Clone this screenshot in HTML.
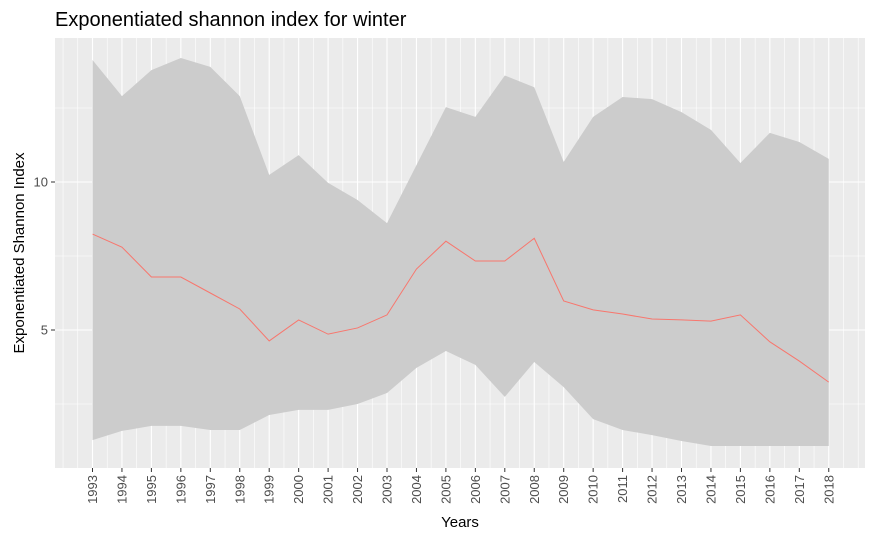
<!DOCTYPE html>
<html><head><meta charset="utf-8"><style>
body{margin:0;background:#fff;}
svg text{font-family:"Liberation Sans",Arial,sans-serif;}
</style></head><body>
<svg width="875" height="540" xmlns="http://www.w3.org/2000/svg">
<text x="55" y="26" font-size="20" fill="#000">Exponentiated shannon index for winter</text>
<rect x="55" y="38" width="810" height="430" fill="#ebebeb"/>
<g id="grid"></g>
<path id="ribbon" fill="#cccccc"/>
<path id="line" fill="none" stroke="#f8766d" stroke-width="1"/>
<g id="axes"></g>
<text x="0" y="0" transform="translate(24,253) rotate(-90)" text-anchor="middle" font-size="15" fill="#000">Exponentiated Shannon Index</text>
<text x="460" y="527" text-anchor="middle" font-size="15" fill="#000">Years</text>
</svg>
<script>
const years=[1993,1994,1995,1996,1997,1998,1999,2000,2001,2002,2003,2004,2005,2006,2007,2008,2009,2010,2011,2012,2013,2014,2015,2016,2017,2018];
const upper=[14.12,12.9,13.78,14.19,13.89,12.9,10.24,10.91,9.97,9.39,8.61,10.57,12.53,12.2,13.6,13.2,10.68,12.2,12.87,12.8,12.36,11.76,10.64,11.66,11.35,10.78];
const meanVals=[8.24,7.8,6.79,6.79,6.25,5.71,4.63,5.34,4.86,5.07,5.51,7.06,8.0,7.33,7.33,8.1,5.98,5.68,5.54,5.37,5.34,5.3,5.51,4.6,3.95,3.24];
const lower=[1.28,1.59,1.76,1.76,1.62,1.62,2.13,2.3,2.3,2.5,2.87,3.72,4.29,3.82,2.74,3.92,3.07,1.99,1.62,1.45,1.25,1.08,1.08,1.08,1.08,1.08];
const yTicks=[5,10];
const X=v=>92.5+(v-1993)*29.45;
const Y=v=>478-v*29.6;
const NS='http://www.w3.org/2000/svg';
const grid=document.getElementById('grid');
function ln(g,x1,y1,x2,y2,c,w,n){const l=document.createElementNS(NS,'line');l.setAttribute('x1',x1);l.setAttribute('y1',y1);l.setAttribute('x2',x2);l.setAttribute('y2',y2);l.setAttribute('stroke',c);l.setAttribute('stroke-width',w);


g.appendChild(l);}
for(let v=1992;v<=2019.01;v+=0.5){ln(grid,X(v),38,X(v),468,'#fff',Number.isInteger(v)&&v>=1993&&v<=2018?1.1:0.6,'x-gridline');}
for(let v=2.5;v<=12.5;v+=2.5){ln(grid,55,Y(v),865,Y(v),'#fff',v%5===0?1.1:0.6,'y-gridline');}
let d='M'+years.map((y,i)=>X(y)+','+Y(upper[i])).join('L');
for(let i=years.length-1;i>=0;i--)d+='L'+X(years[i])+','+Y(lower[i]);
document.getElementById('ribbon').setAttribute('d',d+'Z');
document.getElementById('line').setAttribute('d','M'+years.map((y,i)=>X(y)+','+Y(meanVals[i])).join('L'));
const ax=document.getElementById('axes');
yTicks.forEach(v=>{ln(ax,51,Y(v),55,Y(v),'#333',1,'y-tick');const t=document.createElementNS(NS,'text');t.setAttribute('x',48);t.setAttribute('y',Y(v)+4.5);t.setAttribute('text-anchor','end');t.setAttribute('font-size','13');t.setAttribute('fill','#4d4d4d');t.textContent=v;


ax.appendChild(t);});
years.forEach(y=>{ln(ax,X(y),468,X(y),472,'#333',1,'x-tick');const t=document.createElementNS(NS,'text');t.setAttribute('transform','translate('+(X(y)+4.5)+',475) rotate(-90)');t.setAttribute('text-anchor','end');t.setAttribute('font-size','13');t.setAttribute('fill','#4d4d4d');t.textContent=y;


ax.appendChild(t);});
</script>
</body></html>
